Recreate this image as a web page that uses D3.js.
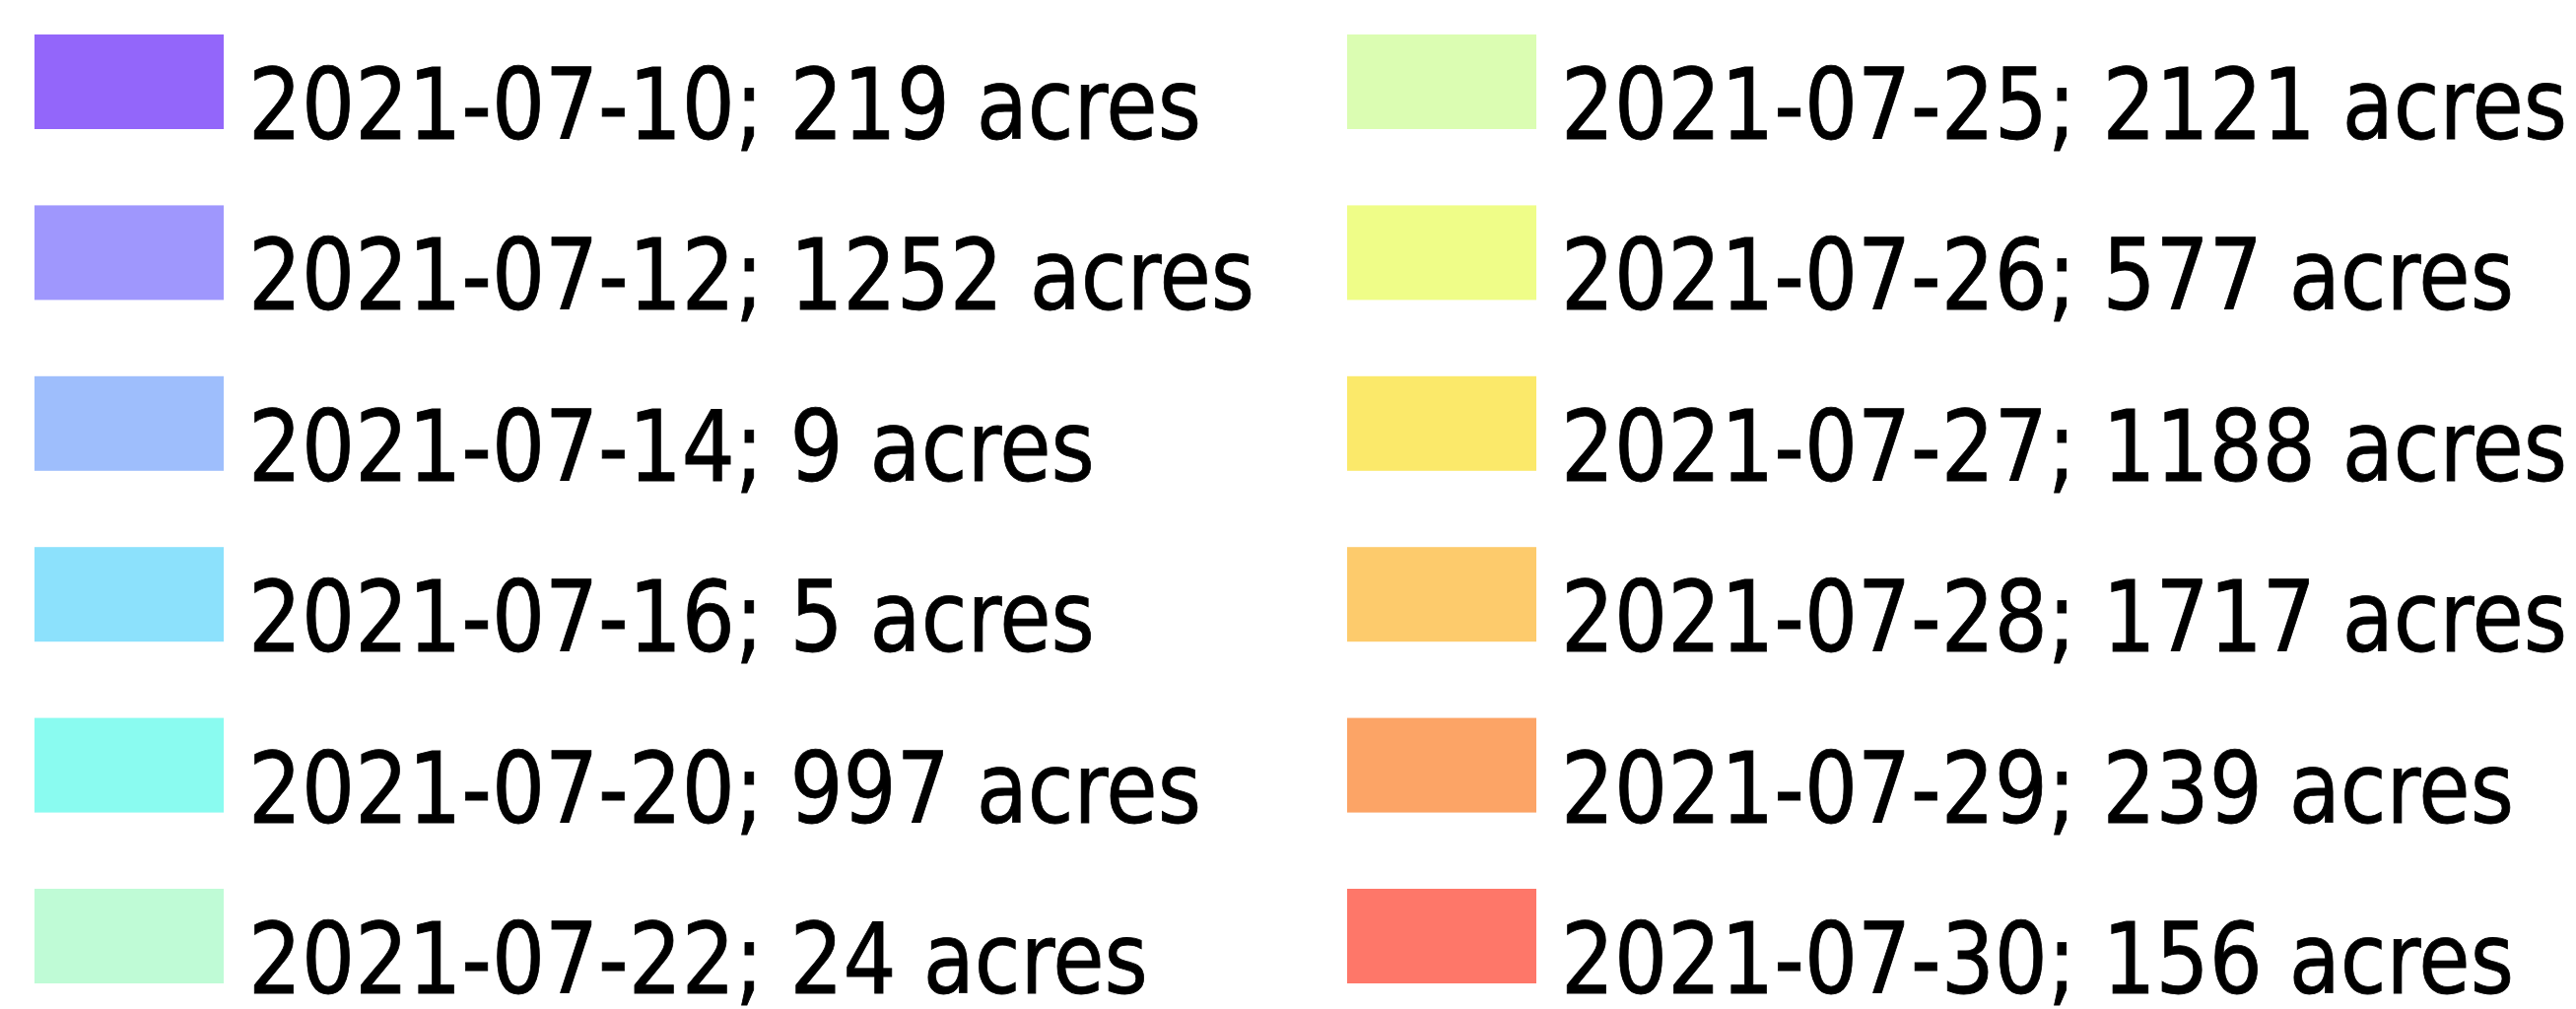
<!DOCTYPE html>
<html><head><meta charset="utf-8">
<script src="https://cdn.jsdelivr.net/npm/d3@7"></script>
<style>html,body{margin:0;padding:0;background:#fff;overflow:hidden}</style>
</head><body>
<script>
const dates = ["2021-07-10","2021-07-12","2021-07-14","2021-07-16","2021-07-20","2021-07-22",
               "2021-07-25","2021-07-26","2021-07-27","2021-07-28","2021-07-29","2021-07-30"];
const acres = [219,1252,9,5,997,24,2121,577,1188,1717,239,156];
const colors = ["#9366FA","#9F97FD","#9EBEFC","#8CE1FC","#8AFBF0","#BFFBD6",
                "#DBFDB2","#EFFD88","#FBE96A","#FDCB6C","#FCA466","#FE7769"];

const W = 2614, H = 1024;
const svg = d3.select("body").append("svg").attr("width", W).attr("height", H);
const perCol = 6;
const colX = d3.scalePoint().domain([0,1]).range([35, 1367]);
const rowY = d3.scaleLinear().domain([0, perCol-1]).range([35, 902]);
const swW = 192, swH = 96;

const items = dates.map((d,i)=>({date:d, acres:acres[i], color:colors[i], col:Math.floor(i/perCol), row:i%perCol}));
const g = svg.selectAll("g.item").data(items).join("g")
  .attr("transform", d=>`translate(${colX(d.col)},${rowY(d.row)})`);
g.append("rect").attr("width", swW).attr("height", swH).attr("fill", d=>d.color);
g.append("text")
  .attr("transform", `translate(${swW+25},106) scale(0.945,1)`)
  .attr("font-family","'DejaVu Sans Condensed','DejaVu Sans',sans-serif")
  .attr("font-stretch","condensed")
  .attr("font-size", 100).attr("fill","#000")
  .attr("stroke","#000").attr("stroke-width",0.8)
  .text(d=>`${d.date}; ${d.acres} acres`);
</script>
</body></html>
